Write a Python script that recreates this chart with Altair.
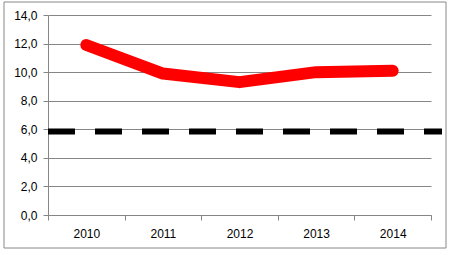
import altair as alt
import pandas as pd

years = ["2010", "2011", "2012", "2013", "2014"]
values = [11.9, 9.9, 9.3, 10.0, 10.1]
ref_value = [5.85]
y_ticks = [0, 2, 4, 6, 8, 10, 12, 14]

df = pd.DataFrame({"year": years, "value": values})
ref = pd.DataFrame({"value": ref_value})

W, H = 383, 200

x_enc = alt.X(
    "year:N",
    title=None,
    scale=alt.Scale(paddingInner=0, paddingOuter=0),
    axis=alt.Axis(
        labelAngle=0, tickBand="extent", grid=False, domainColor="#868686",
        tickColor="#868686", tickSize=5, labelPadding=8, labelFont="Liberation Sans",
        labelFontSize=12, labelColor="#000000", labelOverlap=False,
    ),
)
y_enc = alt.Y(
    "value:Q",
    title=None,
    scale=alt.Scale(domain=[0, 14], nice=False, zero=True),
    axis=alt.Axis(
        values=y_ticks, gridColor="#868686", gridWidth=1, domainColor="#868686",
        tickColor="#868686", tickSize=5, labelPadding=6, labelOverlap=False,
        labelExpr="replace(format(datum.value, '.1f'), '.', ',')",
        labelFont="Liberation Sans", labelFontSize=12, labelColor="#000000",
        labelBound=False, labelFlush=False,
    ),
)

frame = alt.Chart(ref).mark_rect(fill=None, stroke="#888888", strokeWidth=1, clip=False).encode(
    x=alt.value(-44), x2=alt.value(398), y=alt.value(-13), y2=alt.value(233)
)

line = alt.Chart(df).mark_line(
    color="#ff0000", strokeWidth=12, strokeCap="round", strokeJoin="round"
).encode(x=x_enc, y=y_enc)

dash = alt.Chart(ref).mark_rule(
    color="#000000", strokeWidth=6, strokeDash=[27, 20], clip=False
).encode(
    y=y_enc,
    x=alt.value(0), x2=alt.value(394),
)

chart = alt.layer(line, dash, frame).properties(
    width=W, height=H,
    padding={"left": 48, "top": 15, "right": 23, "bottom": 40},
    autosize=alt.AutoSizeParams(type="none"),
    background="#ffffff",
).configure_view(stroke=None)

chart.save("out.html", embed_options={"renderer": "svg", "actions": False})
